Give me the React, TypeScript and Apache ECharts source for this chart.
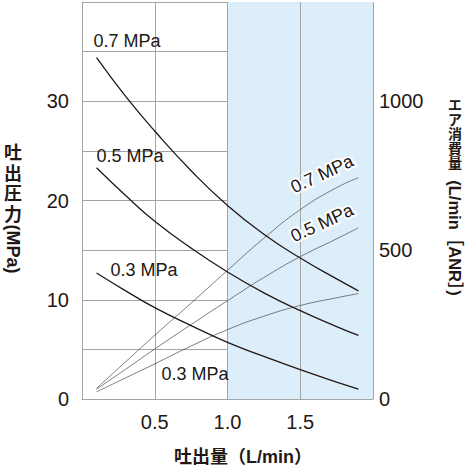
import React, { useEffect, useRef } from 'react';
import * as echarts from 'echarts';

const flow = [0.1, 0.3, 0.5, 0.75, 1.0, 1.25, 1.5, 1.75, 1.9];
const pressure07 = [34.4, 30.5, 27.0, 23.0, 19.5, 16.6, 14.2, 12.1, 10.9];
const pressure05 = [23.3, 20.5, 17.9, 15.2, 12.8, 10.7, 8.9, 7.3, 6.4];
const pressure03 = [12.7, 10.9, 9.2, 7.4, 5.7, 4.3, 2.95, 1.7, 1.0];
const air07 = [36, 125, 214, 322, 432, 540, 636, 710, 743];
const air05 = [33, 100, 168, 250, 330, 408, 478, 538, 575];
const air03 = [24, 71, 118, 178, 233, 278, 314, 340, 354];
const xTickLabels = [0.5, 1.0, 1.5];
const leftTickLabels = [0, 10, 20, 30];
const rightTickLabels = [0, 500, 1000];
const rightTitleChars = ['エ', 'ア', '消', '費', '量'];

const INK = '#231815';
const GRID = '#a3a4a4';
const NUM_FONT = "'Liberation Sans', Arial, sans-serif";
const TITLE_FONT = "'Liberation Sans', 'Noto Sans CJK JP', sans-serif";
const JP_FONT = "'Noto Sans CJK JP', 'Liberation Sans', sans-serif";

const pairs = (ys: number[]) => flow.map((x, i) => [x, ys[i]]);

export default function App() {
  const ref = useRef<HTMLDivElement>(null);
  useEffect(() => {
    const chart = echarts.init(ref.current!, null, { renderer: 'svg' });
    const pressureLine = { color: INK, width: 1.3 };
    const airLine = { color: '#4a4646', width: 0.7 };
    const mkLine = (name: string, ys: number[], axis: number, ls: any) => ({
      name,
      type: 'line',
      yAxisIndex: axis,
      data: pairs(ys),
      smooth: true,
      showSymbol: false,
      symbol: 'none',
      lineStyle: ls,
      z: 3,
    });
    const label = (text: string, x: number, y: number, rot = 0, halo = false) => ({
      type: 'text',
      x,
      y,
      rotation: (rot * Math.PI) / 180,
      z: 10,
      style: {
        text,
        fill: INK,
        font: `18px ${NUM_FONT}`,
        align: 'center',
        verticalAlign: 'middle',
        stroke: halo ? '#ffffff' : undefined,
        lineWidth: halo ? 4 : 0,
        strokeFirst: true,
      },
    });
    chart.setOption({
      animation: false,
      backgroundColor: '#ffffff',
      grid: { left: 82, right: 99, top: 2, bottom: 71 },
      xAxis: {
        type: 'value',
        min: 0,
        max: 2,
        interval: 0.5,
        axisLine: { show: true, lineStyle: { color: GRID, width: 1 } },
        axisTick: { show: false },
        splitLine: { show: true, lineStyle: { color: GRID, width: 1 } },
        splitArea: {
          show: true,
          areaStyle: { color: ['rgba(0,0,0,0)', 'rgba(0,0,0,0)', '#dceef9', '#dceef9'] },
        },
        axisLabel: {
          color: INK,
          fontSize: 20,
          fontFamily: NUM_FONT,
          margin: 13,
          formatter: (v: number) =>
            xTickLabels.some((t) => Math.abs(t - v) < 1e-6) ? v.toFixed(1) : '',
        },
      },
      yAxis: [
        {
          type: 'value',
          min: 0,
          max: 40,
          interval: 5,
          axisLine: { show: true, lineStyle: { color: GRID, width: 1 } },
          axisTick: { show: false },
          splitLine: { show: true, lineStyle: { color: GRID, width: 1 } },
          axisLabel: {
            color: INK,
            fontSize: 20,
            fontFamily: NUM_FONT,
            margin: 13,
            formatter: (v: number) => (leftTickLabels.includes(v) ? String(v) : ''),
          },
        },
        {
          type: 'value',
          min: 0,
          max: 4000 / 3,
          interval: 500,
          position: 'right',
          axisLine: { show: false },
          axisTick: { show: false },
          splitLine: { show: false },
          axisLabel: {
            color: INK,
            fontSize: 20,
            fontFamily: NUM_FONT,
            margin: 6,
            showMaxLabel: false,
            formatter: (v: number) => (rightTickLabels.includes(v) ? String(v) : ''),
          },
        },
      ],
      series: [
        mkLine('air03', air03, 1, airLine),
        mkLine('air05', air05, 1, airLine),
        mkLine('air07', air07, 1, airLine),
        mkLine('p03', pressure03, 0, pressureLine),
        mkLine('p05', pressure05, 0, pressureLine),
        mkLine('p07', pressure07, 0, pressureLine),
      ],
      graphic: [
        label('0.7 MPa', 127, 41),
        label('0.5 MPa', 130, 156),
        label('0.3 MPa', 144, 270),
        label('0.3 MPa', 195, 374),
        label('0.7 MPa', 322, 174, 25, true),
        label('0.5 MPa', 322, 223, 25, true),
        {
          type: 'text',
          x: 13,
          y: 141,
          style: {
            text: '吐\n出\n圧\n力',
            fill: INK,
            font: `bold 18px ${JP_FONT}`,
            lineHeight: 20.5,
            align: 'center',
            verticalAlign: 'top',
          },
        },
        {
          type: 'text',
          x: 13,
          y: 249,
          rotation: -Math.PI / 2,
          style: {
            text: '(MPa)',
            fill: INK,
            font: `bold 18px ${NUM_FONT}`,
            align: 'center',
            verticalAlign: 'middle',
          },
        },
        ...rightTitleChars.map((ch, i) => ({
          type: 'text',
          x: 455,
          y: 104 + i * 14.6,
          style: {
            text: ch,
            fill: INK,
            font: `bold 14px ${JP_FONT}`,
            align: 'center',
            verticalAlign: 'middle',
          },
        })),
        {
          type: 'text',
          x: 455,
          y: 238,
          rotation: -Math.PI / 2,
          style: {
            text: '(L/min［ANR］)',
            fill: INK,
            font: `bold 16.5px ${TITLE_FONT}`,
            align: 'center',
            verticalAlign: 'middle',
          },
        },
        {
          type: 'text',
          x: 243,
          y: 457,
          style: {
            text: '吐出量（L/min）',
            fill: INK,
            font: `bold 18px ${TITLE_FONT}`,
            align: 'center',
            verticalAlign: 'middle',
          },
        },
      ],
    });
    return () => chart.dispose();
  }, []);
  return (
    <div
      ref={ref}
      style={{ position: 'fixed', left: 0, top: 0, width: 472, height: 470, background: '#fff' }}
    />
  );
}
